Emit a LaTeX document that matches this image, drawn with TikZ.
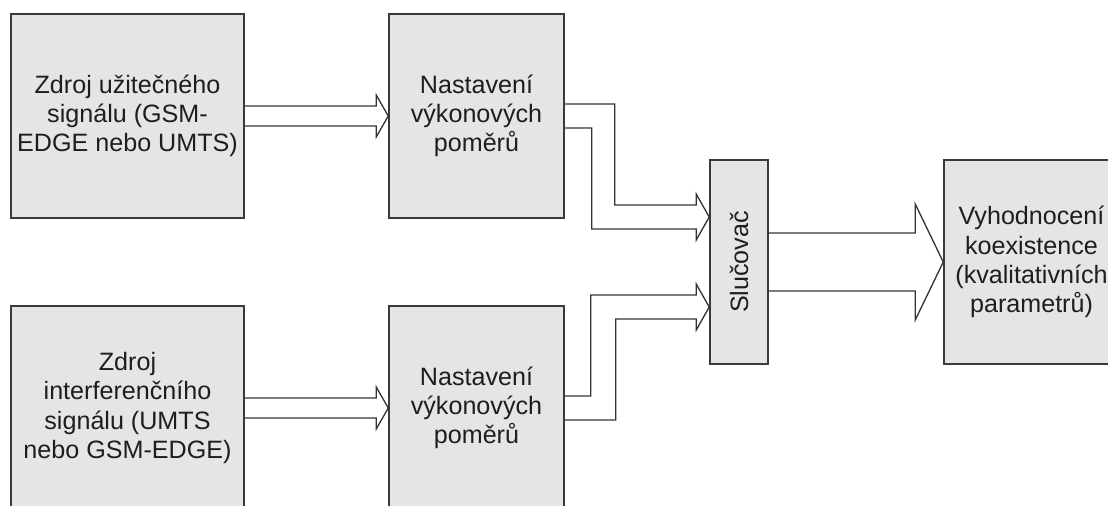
\documentclass[tikz,border=0pt]{standalone}
\usepackage{fontspec}
\setmainfont{Liberation Sans}
\usepackage{graphicx}
\usetikzlibrary{calc}
\definecolor{boxfill}{HTML}{E5E5E5}
\definecolor{boxline}{HTML}{3A3A3A}
\definecolor{txt}{HTML}{1E1E1E}
\tikzset{
	blok/.style={draw=boxline, fill=boxfill, line width=0.9pt, align=center, text=txt,
		minimum height=4.08cm, inner sep=0pt},
	pipe/.style={draw=boxline!90!black, line width=0.75pt, line join=miter},
}
\begin{document}
\begin{tikzpicture}[x=0.02cm, y=-0.02cm, font=\fontsize{14.3}{16.6}\selectfont]
	
	% ================= rozmery obrazku (spodni bloky jsou oriznute) =================
	\useasboundingbox (0,0) rectangle (1108,505);
	\clip (0,0) rectangle (1108,505);
	
	% ================= bloky =================
	\node[blok, minimum width=4.66cm] (srcU) at (127.5,116) {Zdroj užitečného\\signálu (GSM-\\EDGE nebo UMTS)};
	\node[blok, minimum width=3.5cm] (midU) at (476.5,116) {Nastavení\\výkonových\\poměrů};
	\node[blok, minimum width=4.66cm] (srcI) at (127.5,408) {Zdroj\\interferenčního\\signálu (UMTS\\nebo GSM-EDGE)};
	\node[blok, minimum width=3.5cm] (midI) at (476.5,408) {Nastavení\\výkonových\\poměrů};
	\node[blok, minimum width=1.16cm] (merger) at (739,262) {\rotatebox{90}{Slučovač}};
	\node[blok, minimum width=3.5cm] (evalB) at (1031.5,262) {Vyhodnocení\\koexistence\\(kvalitativních\\parametrů)};
	
	% vstupy slucovace (hroty sipek)
	\coordinate (inU) at ($(merger.west)+(0,-45)$);
	\coordinate (inI) at ($(merger.west)+(0,45)$);
	
	% ================= prime dute sipky =================
	\draw[pipe] ($(srcU.east)+(0,-10)$) -- ($(midU.west)+(-12,-10)$) -- ++(0,-11) -- (midU.west)
		-- ($(midU.west)+(-12,21)$) -- ++(0,-11) -- ($(srcU.east)+(0,10)$);
	\draw[pipe] ($(srcI.east)+(0,-10)$) -- ($(midI.west)+(-12,-10)$) -- ++(0,-11) -- (midI.west)
		-- ($(midI.west)+(-12,21)$) -- ++(0,-11) -- ($(srcI.east)+(0,10)$);
	\draw[pipe] ($(merger.east)+(0,-29)$) -- ($(evalB.west)+(-28,-29)$) -- ++(0,-29) -- (evalB.west)
		-- ($(evalB.west)+(-28,58)$) -- ++(0,-29) -- ($(merger.east)+(0,29)$);
	
	% ================= lomene sipky do slucovace =================
	\draw[pipe] ($(midU.east)+(0,-12)$) -- ++(50,0) |- ($(inU)+(-13,-12)$) -- ++(0,-11) -- (inU)
		-- ($(inU)+(-13,23)$) -- ++(0,-11) -| ($(midU.east)+(27,12)$) -- ($(midU.east)+(0,12)$);
	\draw[pipe] ($(midI.east)+(0,-12)$) -- ++(26,0) |- ($(inI)+(-13,-12)$) -- ++(0,-11) -- (inI)
		-- ($(inI)+(-13,23)$) -- ++(0,-11) -| ($(midI.east)+(51,12)$) -- ($(midI.east)+(0,12)$);
	
\end{tikzpicture}
\end{document}
